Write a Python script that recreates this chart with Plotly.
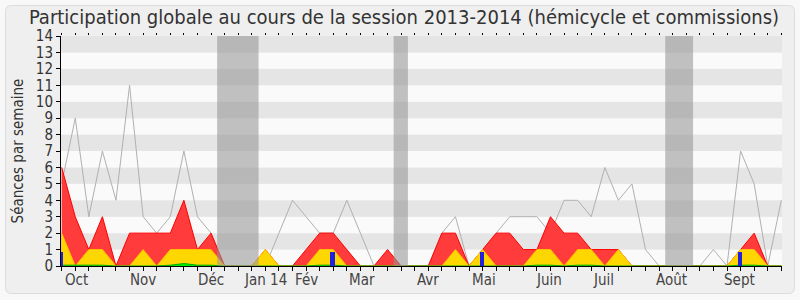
import plotly.graph_objects as go

weeks = list(range(54))
grey_median = [5, 9, 3, 7, 4, 11, 3, 2, 3, 7, 3, 2, 0, 0, 0, 0, 2, 4, 3, 2,
               2, 4, 2, 0, 0, 0, 0, 0, 2, 3, 0, 1, 2, 3, 3, 3, 2, 4, 4, 3,
               6, 4, 5, 1, 0, 0, 0, 0, 1, 0, 7, 5, 0, 4]
red_commission = [6, 3, 1, 3, 0, 2, 2, 2, 2, 4, 1, 2, 0, 0, 0, 1, 0, 0, 1, 2,
                  2, 1, 0, 0, 1, 0, 0, 0, 2, 2, 0, 1, 2, 2, 1, 1, 3, 2, 2, 1,
                  1, 1, 0, 0, 0, 0, 0, 0, 0, 0, 1, 2, 0, 0]
yellow_hemicycle = [2, 0, 1, 1, 0, 0, 1, 0, 1, 1, 1, 1, 0, 0, 0, 1, 0, 0, 0, 1,
                    1, 0, 0, 0, 0, 0, 0, 0, 0, 1, 0, 1, 0, 0, 0, 1, 1, 0, 1, 1,
                    0, 1, 0, 0, 0, 0, 0, 0, 0, 0, 1, 1, 0, 0]
green_interventions = [0.05, 0.05, 0.05, 0.05, 0, 0, 0, 0, 0.05, 0.15, 0.05, 0.05, 0, 0, 0, 0, 0, 0, 0, 0.05,
                       0.05, 0, 0, 0, 0, 0, 0, 0, 0, 0, 0, 0, 0, 0, 0, 0.05, 0.05, 0, 0.05, 0.05,
                       0, 0, 0, 0, 0, 0, 0, 0, 0, 0, 0.05, 0.05, 0, 0]
blue_questions = [0.85, 0, 0, 0, 0, 0, 0, 0, 0, 0, 0, 0, 0, 0, 0, 0, 0, 0, 0, 0,
                  0.85, 0, 0, 0, 0, 0, 0, 0, 0, 0, 0, 0.85, 0, 0, 0, 0, 0, 0, 0, 0,
                  0, 0, 0, 0, 0, 0, 0, 0, 0, 0, 0.85, 0, 0, 0]
vacations = [(12, 14), (25, 25), (45, 46)]
month_labels = ["Oct", "Nov", "Déc", "Jan 14", "Fév", "Mar", "Avr", "Mai", "Juin", "Juil", "Août", "Sept"]
month_pos = [1.1, 6.0, 11.0, 15.0, 18.0, 22.1, 27.0, 31.1, 35.9, 39.9, 44.9, 49.95]
y_ticks = list(range(15))

FONT = "DejaVu Sans Condensed, DejaVu Sans, sans-serif"
W, H = 800, 300
ML, MR, MT, MB = 61, 18, 36, 34
PW, PH = W - ML - MR, H - MT - MB
XR = [-0.05, 53.05]

fig = go.Figure()
fig.add_trace(go.Scatter(x=weeks, y=grey_median, mode="lines",
                         line=dict(color="#b0b0b0", width=1), hoverinfo="skip"))
fig.add_trace(go.Scatter(x=weeks, y=red_commission, mode="lines", fill="tozeroy",
                         fillcolor="#ff3b3b", line=dict(color="#ff0000", width=1)))
fig.add_trace(go.Scatter(x=weeks, y=yellow_hemicycle, mode="lines", fill="tozeroy",
                         fillcolor="#ffd700", line=dict(color="#ffc400", width=1)))
fig.add_trace(go.Scatter(x=weeks, y=green_interventions, mode="lines", fill="tozeroy",
                         fillcolor="#00ee00", line=dict(color="#00aa00", width=1)))
fig.add_trace(go.Bar(x=weeks, y=blue_questions, width=0.32, offset=-0.22, xaxis="x2", yaxis="y2",
                     marker=dict(color="#2222dd", line=dict(width=0))))

shapes = []
# background stripes
for k in range(0, 14):
    shapes.append(dict(type="rect", xref="x", yref="y", x0=-5, x1=60, y0=k, y1=k + 1,
                       fillcolor="#e5e5e5" if k % 2 else "#fafafa", line=dict(width=0), layer="below"))
# vacation bands
for a, b in vacations:
    shapes.append(dict(type="rect", xref="x", yref="paper", x0=a - 0.55, x1=b + 0.5, y0=0, y1=1,
                       fillcolor="rgba(150,150,150,0.58)", line=dict(width=0), layer="above"))


# rounded outer frame
def px(xp):
    return (xp - ML) / PW


def py(yp):
    return (H - MB - yp) / PH


x0, x1, y0, y1, r = 5.5, 794.5, 5.5, 293.5, 6
path = (f"M {px(x0 + r)} {py(y0)} L {px(x1 - r)} {py(y0)} Q {px(x1)} {py(y0)} {px(x1)} {py(y0 + r)} "
        f"L {px(x1)} {py(y1 - r)} Q {px(x1)} {py(y1)} {px(x1 - r)} {py(y1)} "
        f"L {px(x0 + r)} {py(y1)} Q {px(x0)} {py(y1)} {px(x0)} {py(y1 - r)} "
        f"L {px(x0)} {py(y0 + r)} Q {px(x0)} {py(y0)} {px(x0 + r)} {py(y0)} Z")
shapes.append(dict(type="path", xref="paper", yref="paper", path=path,
                   fillcolor="#efefef", line=dict(color="#dcdcdc", width=1), layer="below"))

annotations = []
for lab, pos in zip(month_labels, month_pos):
    annotations.append(dict(x=pos, y=0, xref="x", yref="paper", text=lab, showarrow=False,
                            xanchor="center", yanchor="top", yshift=-3,
                            font=dict(family=FONT, size=15, color="#444444")))

fig.update_layout(
    width=W, height=H,
    margin=dict(l=ML, r=MR, t=MT, b=MB, pad=0),
    paper_bgcolor="#f8f8f8",
    plot_bgcolor="rgba(0,0,0,0)",
    showlegend=False,
    bargap=0,
    title=dict(text="Participation globale au cours de la session 2013-2014 (hémicycle et commissions)",
               x=0.505, xanchor="center", y=0.945, yanchor="middle", yref="container",
               font=dict(family=FONT, size=20, color="#333333")),
    xaxis=dict(range=XR, tickmode="array", tickvals=weeks, showticklabels=False,
               ticks="outside", ticklen=4, tickcolor="#000000", showline=True, linecolor="#000000",
               linewidth=1, showgrid=False, zeroline=False, fixedrange=True),
    xaxis2=dict(range=XR, overlaying="x", side="top", tickmode="array", tickvals=weeks,
                showticklabels=False, ticks="outside", ticklen=2, tickcolor="#000000",
                showline=False, showgrid=False, zeroline=False),
    yaxis=dict(range=[0, 14], tickmode="array", tickvals=y_ticks, ticks="outside", ticklen=4,
               tickcolor="#000000", showline=True, linecolor="#000000", linewidth=1,
               showgrid=False, zeroline=False,
               tickfont=dict(family=FONT, size=15, color="#333333"),
               title=dict(text="Séances par semaine", standoff=8,
                          font=dict(family=FONT, size=15, color="#333333"))),
    yaxis2=dict(range=[0, 14], overlaying="y", visible=False, showgrid=False, zeroline=False),
    shapes=shapes,
    annotations=annotations,
)

fig.write_html("out.html")
